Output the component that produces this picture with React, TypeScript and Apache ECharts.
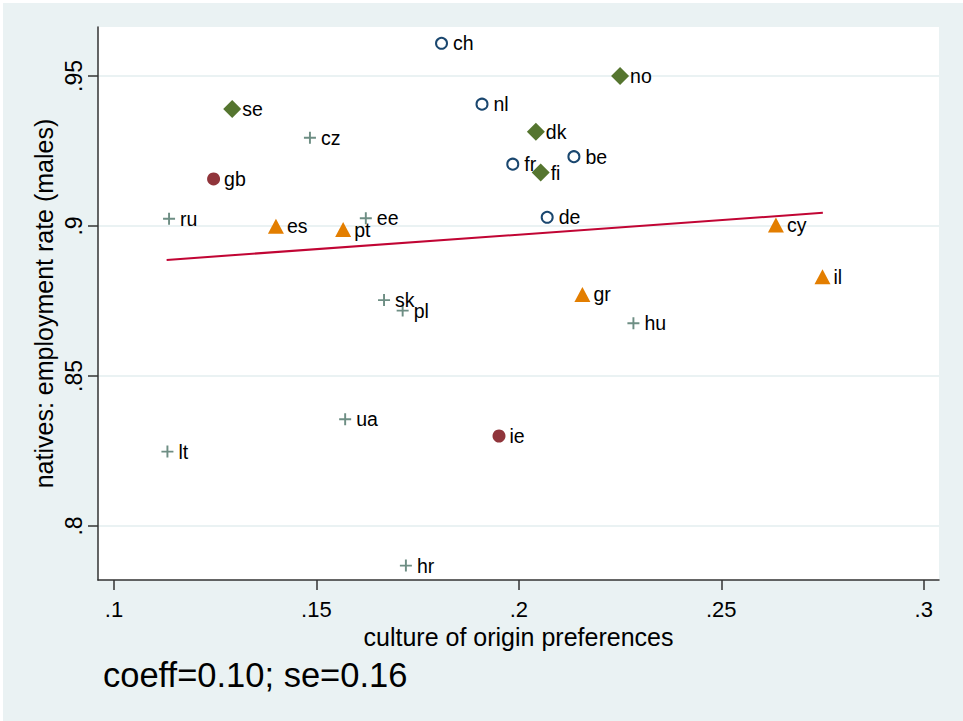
import React, { useEffect, useRef } from 'react';
import * as echarts from 'echarts';

// Country codes, x = culture of origin preferences, y = natives employment rate (males)
const countries = ['ch', 'no', 'se', 'cz', 'nl', 'dk', 'fr', 'be', 'fi', 'gb', 'ru', 'es', 'pt', 'ee', 'de', 'cy', 'il', 'gr', 'sk', 'pl', 'hu', 'ua', 'ie', 'lt', 'hr'];
const originPref = [0.1809, 0.2250, 0.1292, 0.1484, 0.1909, 0.2042, 0.1985, 0.2136, 0.2054, 0.1246, 0.1136, 0.1400, 0.1566, 0.1622, 0.2070, 0.2635, 0.2750, 0.2157, 0.1667, 0.1713, 0.2283, 0.1571, 0.1951, 0.1132, 0.1721];
const employment = [0.9609, 0.9500, 0.9390, 0.9294, 0.9406, 0.9314, 0.9206, 0.9231, 0.9178, 0.9157, 0.9024, 0.8999, 0.8988, 0.9026, 0.9029, 0.9003, 0.8831, 0.8772, 0.8753, 0.8718, 0.8676, 0.8356, 0.8300, 0.8248, 0.7868];
const groups = ['hollow', 'diamond', 'diamond', 'plus', 'hollow', 'diamond', 'hollow', 'hollow', 'diamond', 'solid', 'plus', 'triangle', 'triangle', 'plus', 'hollow', 'triangle', 'triangle', 'triangle', 'plus', 'plus', 'plus', 'plus', 'solid', 'plus', 'plus'];

// Linear fit end points
const fitX = [0.1130, 0.2751];
const fitY = [0.8887, 0.9044];

const xTicks = [0.1, 0.15, 0.2, 0.25, 0.3];
const xTickLabels = ['.1', '.15', '.2', '.25', '.3'];
const yTicks = [0.8, 0.85, 0.9, 0.95];
const yTickLabels = ['.8', '.85', '.9', '.95'];

const xTitle = 'culture of origin preferences';
const yTitle = 'natives: employment rate (males)';
const footnote = 'coeff=0.10; se=0.16';

const FONT = "'Liberation Sans', Arial, Helvetica, sans-serif";
const PLUS = 'path://M4.2,0H5.8V10H4.2ZM0,4.2H10V5.8H0Z';

function pickLabel(ticks: number[], labels: string[], v: number) {
  let best = 0;
  for (let i = 1; i < ticks.length; i++) {
    if (Math.abs(ticks[i] - v) < Math.abs(ticks[best] - v)) best = i;
  }
  return labels[best];
}

export default function App() {
  const ref = useRef<HTMLDivElement>(null);
  useEffect(() => {
    const chart = echarts.init(ref.current!, null, { renderer: 'svg' });
    const points = countries.map((c, i) => ({ name: c, value: [originPref[i], employment[i]], g: groups[i] }));
    const dataFor = (g: string) => points.filter((p) => p.g === g).map((p) => ({ name: p.name, value: p.value }));
    const mk = (g: string, symbol: string, size: any, itemStyle: any, dist: number) => ({
      type: 'scatter',
      symbol,
      symbolSize: size,
      itemStyle: { opacity: 1, ...itemStyle },
      data: dataFor(g),
      label: {
        show: true,
        position: 'right',
        distance: dist,
        formatter: '{b}',
        color: '#000',
        fontSize: 19.5,
        fontFamily: FONT,
      },
      silent: true,
      z: 3,
    });
    const axisLineStyle = { color: '#333', width: 1.5 };
    chart.setOption({
      animation: false,
      backgroundColor: '#eaf2f3',
      grid: { left: 95, top: 24, right: 24, bottom: 141, show: true, backgroundColor: '#fff', borderWidth: 0 },
      xAxis: {
        type: 'value',
        min: 0.09605,
        max: 0.30378,
        axisLine: { show: true, onZero: false, lineStyle: axisLineStyle },
        axisTick: { show: true, length: 10, customValues: xTicks, lineStyle: axisLineStyle },
        axisLabel: {
          customValues: xTicks,
          margin: 18,
          fontSize: 22,
          color: '#000',
          fontFamily: FONT,
          formatter: (v: number) => pickLabel(xTicks, xTickLabels, v),
        },
        splitLine: { show: false },
        name: xTitle,
        nameLocation: 'middle',
        nameGap: 44,
        nameMoveOverlap: false,
        nameTextStyle: { fontSize: 25, color: '#000', fontFamily: FONT },
      },
      yAxis: {
        type: 'value',
        min: 0.782,
        max: 0.96633,
        axisLine: { show: true, onZero: false, lineStyle: axisLineStyle },
        axisTick: { show: true, length: 10, customValues: yTicks, lineStyle: axisLineStyle },
        axisLabel: {
          customValues: yTicks,
          rotate: 90,
          margin: 13,
          fontSize: 23,
          color: '#000',
          fontFamily: FONT,
          formatter: (v: number) => pickLabel(yTicks, yTickLabels, v),
        },
        splitLine: { show: true, lineStyle: { color: '#eaf2f3', width: 2 } },
        name: yTitle,
        nameLocation: 'middle',
        nameGap: 42,
        nameMoveOverlap: false,
        nameTextStyle: { fontSize: 25, color: '#000', fontFamily: FONT },
      },
      graphic: [
        {
          type: 'text',
          left: 100,
          top: 654,
          style: { text: footnote, fontSize: 34.5, fill: '#000', fontFamily: FONT },
        },
      ],
      series: [
        mk('hollow', 'circle', 11, { color: '#fff', borderColor: '#1a476f', borderWidth: 2 }, 5),
        mk('diamond', 'diamond', 18, { color: '#55752f' }, 1),
        mk('solid', 'circle', 13, { color: '#90353b' }, 4),
        mk('triangle', 'triangle', [16, 15], { color: '#e37e00' }, 3),
        mk('plus', PLUS, 12, { color: '#6e8e84' }, 5),
        {
          type: 'line',
          data: fitX.map((x, i) => [x, fitY[i]]),
          symbol: 'none',
          lineStyle: { color: '#c10534', width: 2 },
          silent: true,
          z: 4,
        },
      ],
    });
    return () => chart.dispose();
  }, []);
  return (
    <div style={{ position: 'fixed', left: 0, top: 0, width: 963, height: 721, background: '#fff' }}>
      <div ref={ref} style={{ position: 'absolute', left: 3, top: 3, width: 960, height: 718 }} />
    </div>
  );
}
